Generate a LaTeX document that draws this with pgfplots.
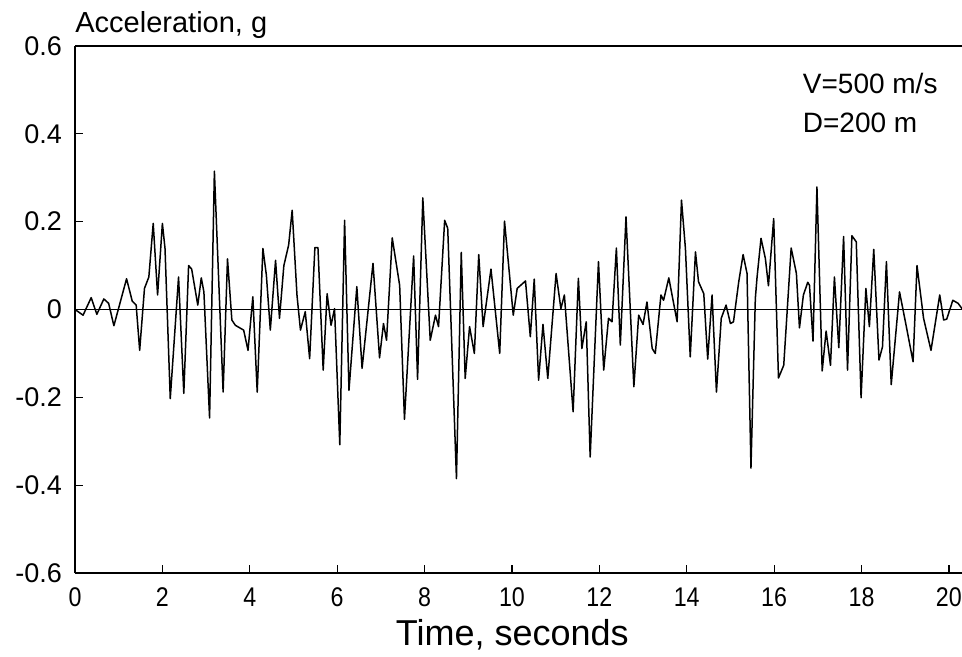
\documentclass[border=0pt]{standalone}
\usepackage{pgfplots}
\pgfplotsset{compat=1.18}
\usepackage{fontspec}
\setmainfont{Liberation Sans}
\newfontfamily\narrowfont[FakeStretch=0.86]{Liberation Sans}

\begin{document}
\begin{tikzpicture}
\useasboundingbox (-37.5pt,-42pt) rectangle (443.5pt,286.5pt);
\begin{axis}[
    at={(0,0)}, anchor=south west,
    scale only axis,
    width=443.5pt, height=263.5pt,
    xmin=0, xmax=20.3,
    ymin=-0.6, ymax=0.6,
    axis x line*=box,
    axis y line*=left,
    axis line style={line width=0.9pt},
    xtick={0,2,...,20},
    ytick={-0.6,-0.4,...,0.6},
    xtick pos=bottom, ytick pos=left,
    tick align=inside,
    major tick length=4pt,
    tick style={black, line width=0.6pt},
    /pgf/number format/assume math mode=true,
    /pgf/number format/fixed,
    /pgf/number format/precision=1,
    xticklabel style={font=\narrowfont\fontsize{13.5}{14}\selectfont, yshift=-4pt},
    yticklabel style={font=\fontsize{13.5}{14}\selectfont, xshift=-3pt},
    xlabel={Time, seconds},
    xlabel style={font=\fontsize{18}{20}\selectfont,
        at={(rel axis cs:0.493,0)}, anchor=base, yshift=-36pt},
    clip=false,
]
\addplot[black, line width=0.8pt] coordinates {(0,0) (20.3,0)};
\addplot[black, line width=0.75pt, line join=round] coordinates {
(0,0) (0.185,-0.013) (0.37,0.027) (0.5,-0.011) (0.66,0.024) (0.77,0.014)
(0.89,-0.037) (1.18,0.07) (1.31,0.019) (1.40,0.01) (1.48,-0.093) (1.59,0.048)
(1.69,0.074) (1.79,0.196) (1.89,0.033) (2.00,0.196) (2.06,0.139) (2.18,-0.203)
(2.37,0.074) (2.49,-0.191) (2.60,0.10) (2.67,0.092) (2.81,0.01) (2.89,0.072)
(2.95,0.04) (3.08,-0.247) (3.19,0.315) (3.39,-0.188) (3.49,0.115) (3.59,-0.024)
(3.67,-0.036) (3.86,-0.047) (3.96,-0.093) (4.07,0.029) (4.17,-0.188) (4.30,0.139)
(4.38,0.078) (4.47,-0.047) (4.59,0.112) (4.68,-0.02) (4.78,0.10) (4.89,0.147)
(4.97,0.226) (5.08,0.033) (5.16,-0.047) (5.27,-0.005) (5.37,-0.112) (5.49,0.141)
(5.56,0.141) (5.68,-0.138) (5.77,0.036) (5.86,-0.036) (5.94,0.002) (6.06,-0.308)
(6.17,0.203) (6.27,-0.184) (6.45,0.052) (6.57,-0.134) (6.82,0.105) (6.97,-0.11)
(7.06,-0.032) (7.13,-0.07) (7.26,0.163) (7.43,0.055) (7.54,-0.25) (7.75,0.122)
(7.84,-0.159) (7.96,0.254) (8.13,-0.07) (8.25,-0.013) (8.32,-0.039) (8.46,0.203)
(8.53,0.185) (8.73,-0.385) (8.84,0.13) (8.93,-0.157) (9.03,-0.039) (9.14,-0.10)
(9.24,0.125) (9.34,-0.039) (9.52,0.092) (9.72,-0.10) (9.83,0.201) (10.03,-0.013)
(10.12,0.048) (10.31,0.065) (10.42,-0.062) (10.51,0.069) (10.61,-0.161) (10.71,-0.034)
(10.82,-0.157) (11.01,0.082) (11.12,0.002) (11.20,0.033) (11.40,-0.233) (11.52,0.071)
(11.60,-0.089) (11.70,-0.028) (11.79,-0.336) (11.98,0.109) (12.10,-0.138) (12.21,-0.02)
(12.29,-0.028) (12.39,0.14) (12.48,-0.081) (12.61,0.211) (12.79,-0.176) (12.90,-0.013)
(13.0,-0.034) (13.09,0.017) (13.21,-0.089) (13.28,-0.10) (13.41,0.033) (13.47,0.021)
(13.59,0.072) (13.78,-0.028) (13.88,0.249) (13.97,0.139) (14.08,-0.108) (14.20,0.131)
(14.27,0.063) (14.39,0.036) (14.48,-0.113) (14.58,0.033) (14.68,-0.188) (14.79,-0.02)
(14.90,0.01) (15.0,-0.032) (15.07,-0.028) (15.19,0.063) (15.29,0.125) (15.38,0.082)
(15.47,-0.361) (15.57,0.025) (15.61,0.074) (15.70,0.162) (15.80,0.116) (15.87,0.054)
(15.99,0.207) (16.10,-0.156) (16.22,-0.127) (16.39,0.14) (16.51,0.082) (16.58,-0.042)
(16.67,0.033) (16.77,0.062) (16.81,0.055) (16.89,-0.072) (16.98,0.279) (17.10,-0.14)
(17.19,-0.049) (17.29,-0.127) (17.38,0.074) (17.48,-0.087) (17.59,0.166) (17.68,-0.138)
(17.78,0.168) (17.88,0.154) (17.99,-0.201) (18.10,0.048) (18.18,-0.039) (18.28,0.137)
(18.40,-0.115) (18.48,-0.085) (18.57,0.109) (18.68,-0.171) (18.87,0.04) (19.02,-0.036)
(19.18,-0.119) (19.27,0.10) (19.42,-0.02) (19.59,-0.093) (19.79,0.033) (19.88,-0.024)
(19.95,-0.022) (20.09,0.021) (20.21,0.014) (20.3,0.002)
};
\node[anchor=south west, inner sep=0pt, font=\fontsize{14.5}{16}\selectfont]
    at (rel axis cs:0,1) [yshift=3.5pt] {Acceleration, g};
\node[anchor=west, inner sep=0pt, font=\fontsize{14}{16}\selectfont]
    at (axis cs:16.65,0.515) {V=500 m/s};
\node[anchor=west, inner sep=0pt, font=\fontsize{14}{16}\selectfont]
    at (axis cs:16.65,0.424) {D=200 m};
\end{axis}
\end{tikzpicture}
\end{document}
